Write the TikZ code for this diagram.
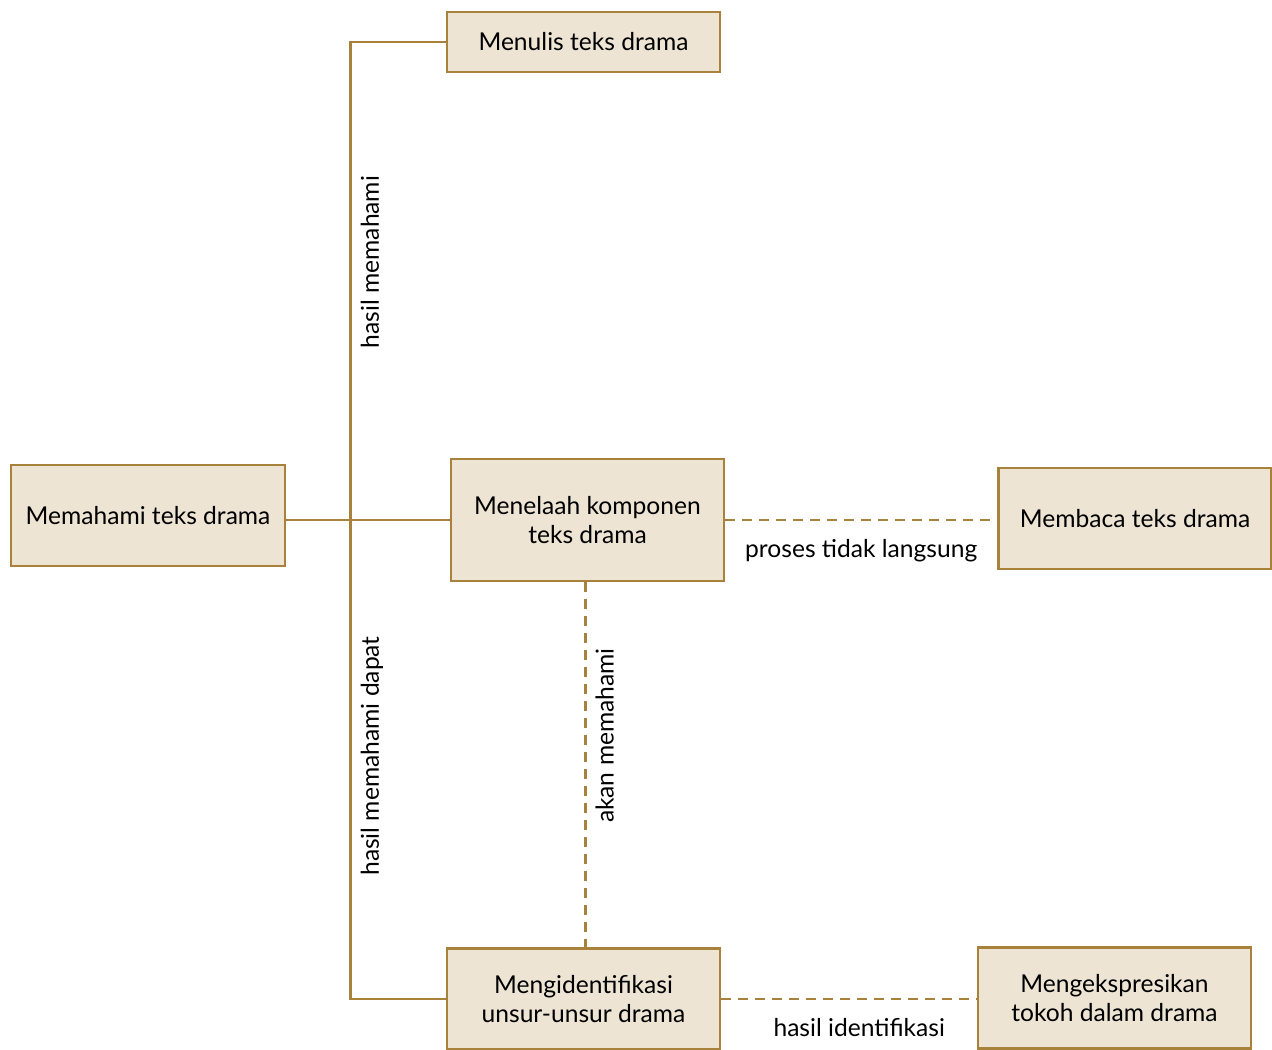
\documentclass[tikz,border=0pt]{standalone}
\usepackage{fontspec}
\setmainfont{Lato}
\definecolor{main}{RGB}{168,130,58}
\definecolor{second}{RGB}{237,228,212}
\usetikzlibrary{
	arrows.meta,
	positioning,
	calc
}
\tikzset{
  % line
	cstline/.style      ={main, line width=1.5pt},
	cstdashline/.style  ={main, line width=1.5pt, dash pattern=on 0.2cm off 0.14cm},
  % node
	cstnode/.style      ={fill=second,draw=main,text=black,line width=1.5pt,minimum width=5.46cm,minimum height=2.02cm,align=center,font=\fontsize{14}{17}\selectfont},
	cstlabel/.style     ={text=black,font=\fontsize{14}{17}\selectfont,inner sep=2pt},
	cstvlabel/.style    ={cstlabel,rotate=90,anchor=north,inner sep=5pt}
}

\begin{document}
\begin{tikzpicture}
	\useasboundingbox (0,0) rectangle (25.44,-20.98);
	% boxes
	\node[cstnode,minimum height=1.2cm] (menulis) at (11.67,-0.84) {Menulis teks drama};
	\node[cstnode,minimum width=5.48cm] (memahami) at (2.96,-10.31) {Memahami teks drama};
	\node[cstnode,minimum height=2.44cm] (menelaah) at (11.75,-10.40) {Menelaah komponen\\teks drama};
	\node[cstnode] (membaca) at (22.70,-10.37) {Membaca teks drama};
	\node[cstnode] (identifikasi) at (11.67,-19.98) {Mengidentifikasi\\unsur-unsur drama};
	\node[cstnode] (ekspresi) at (22.29,-19.96) {Mengekspresikan\\tokoh dalam drama};
	% solid lines
	\draw[cstline] (menulis.west) -- ++(-1.9,0) coordinate (spine)
		|- node[cstvlabel,pos=0.115] {hasil memahami}
		   node[cstvlabel,pos=0.373] {hasil memahami dapat}
		(identifikasi.west);
	\draw[cstline] (memahami.east |- menelaah.west) -- (menelaah.west);
	% dashed lines
	\draw[cstdashline] (menelaah.east) -- node[cstlabel,below=8pt] {proses tidak langsung} (menelaah.east -| membaca.west);
	\draw[cstdashline] ([xshift=-0.04cm]menelaah.south) -- node[cstvlabel,pos=0.42] {akan memahami} ([xshift=-0.04cm]menelaah.south |- identifikasi.north);
	\draw[cstdashline] (identifikasi.east) -- node[cstlabel,pos=0.54,below=8pt] {hasil identifikasi} (identifikasi.east -| ekspresi.west);
\end{tikzpicture}
\end{document}
